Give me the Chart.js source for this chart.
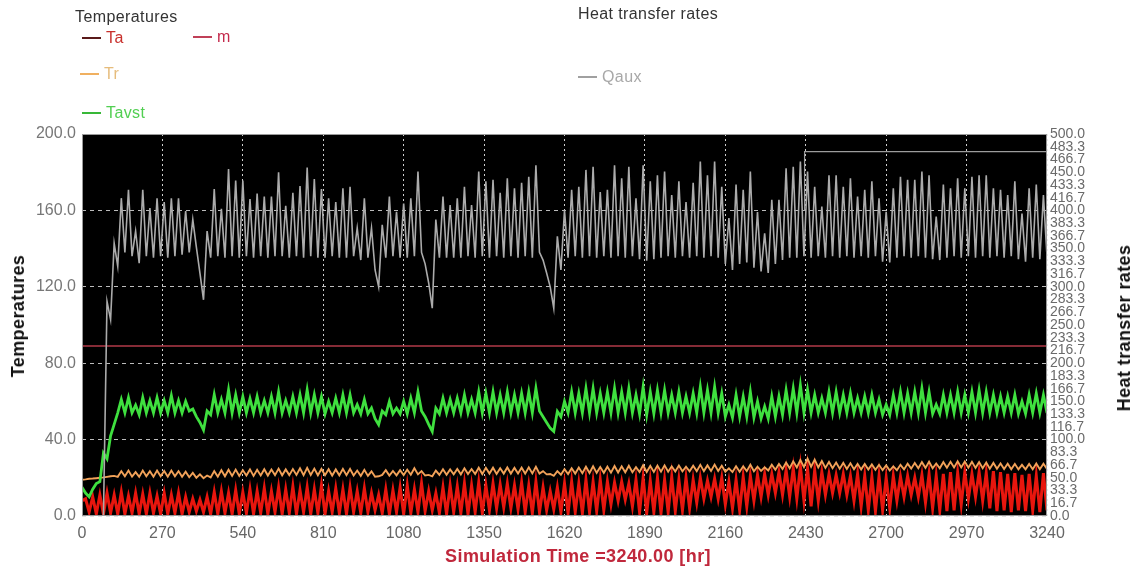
<!DOCTYPE html>
<html>
<head>
<meta charset="utf-8">
<script src="https://cdn.jsdelivr.net/npm/chart.js@4.4.1/dist/chart.umd.min.js"></script>
<style>
  body { margin: 0; background: #fff; }
  #wrap { position: relative; width: 1136px; height: 570px; font-family: "Liberation Sans", Arial, sans-serif; }
  canvas { position: absolute; left: 0; top: 0; }
  .lbl { position: absolute; white-space: nowrap; font-size: 16px; line-height: 1; letter-spacing: 0.4px; }
  .dash { display: inline-block; width: 19px; height: 2px; vertical-align: middle; margin-right: 5px; position: relative; top: -1px; }
  .axt { position: absolute; white-space: nowrap; font-weight: bold; font-size: 18px; line-height: 1; letter-spacing: 0.4px; }
</style>
</head>
<body>
<div id="wrap">
  <canvas id="chart" width="1136" height="570"></canvas>

  <div class="lbl" style="left:75px;top:9px;color:#333">Temperatures</div>
  <div class="lbl" style="left:82px;top:30px;color:#c8302c"><span class="dash" style="background:#5a1a1a"></span>Ta</div>
  <div class="lbl" style="left:193px;top:29px;color:#c42a4c"><span class="dash" style="background:#c04058"></span>m</div>
  <div class="lbl" style="left:80px;top:66px;color:#e6bc7c"><span class="dash" style="background:#f0b060"></span>Tr</div>
  <div class="lbl" style="left:82px;top:105px;color:#52cf52"><span class="dash" style="background:#38b838"></span>Tavst</div>

  <div class="lbl" style="left:578px;top:6px;color:#333">Heat transfer rates</div>
  <div class="lbl" style="left:578px;top:69px;color:#a8a8a8"><span class="dash" style="background:#a0a0a0"></span>Qaux</div>

  <div class="axt" style="left:18px;top:316px;color:#111;transform:translate(-50%,-50%) rotate(-90deg)">Temperatures</div>
  <div class="axt" style="left:1124px;top:328px;color:#111;transform:translate(-50%,-50%) rotate(-90deg)">Heat transfer rates</div>
  <div class="axt" style="left:578px;top:556px;color:#c0283c;transform:translate(-50%,-50%)">Simulation Time =3240.00 [hr]</div>
</div>

<script>
// Simulation output, sampled every 12 hours from 0 to 3240 hr
const STEP_HR = 12;
const hours = Array.from({ length: 271 }, (_, i) => i * STEP_HR);

// Ambient temperature Ta [°C]
const ta = [
  8,9,2,10,1,11,1,12,1.5,11,1,12.5,1,10.5,1.5,12,1,11.5,1,12,1.5,10.5,1,12,
  1,11,1.5,12,1,10,2,9,2.5,8.5,2,10,1,12.5,1,13,1.5,12,1,13.5,1,12.5,1.5,14,
  1,13,1.5,14.5,1,13,2,15,1,14,1.5,15.5,1,13.5,2,15,1,14,1.5,16,1,13,2,14.5,
  1.5,14,1,15,2,13,1.5,14.5,2,12,3,11,1.5,14,1,13.5,2,15,1,16,1.5,14,2,17,
  2.5,13,3,12,1.5,15,1,16,2,15.5,1.5,17,1,16,2,17.5,1.5,16,3,17,4,16.5,4.5,17,
  4,16,3.5,17.5,2,16,1.5,18,2,15,3,13,3.5,15,2,17,1.5,18,2,17,1.5,19,2,18,
  2.5,19,3,18,6,17.5,8,18,8.5,17,5,19,2,20,1.5,18.5,2,20,1.5,19,2,20.5,2.5,19,
  3,20,4,19,7,20,9,18.5,10,19.5,9,20,6,18,4,19,3,20.5,5,21,8,21.5,10,22,
  11,22,12,23,11,24,10,25,9,26,8,25,5,24,8,23,11,22,12,21.5,12,22,11,21,
  8,22,5,21,3,20.5,2.5,21,3,20,4,21,8,20.5,10,21,11,20,10,21.5,7,22,4,21,
  3,22,2.5,23,3,22.5,6,23,9,22,10,23,8,22.5,4,23.5,2.5,23,3,22,2,22.5,3,21.5,
  2.5,22,3,21,2,22.5,3
];

// Room temperature Tr [°C]
const tr = [
  19,19.2,19.5,19.6,19.8,20,20.2,20.5,20.8,21,20.5,23.5,20.8,23.8,20.6,23,20.5,23.8,20.8,23.5,20.6,23.8,20.8,23.6,
  20.6,23.8,20.8,23.5,20.5,23.2,20.3,22.6,20,21.8,19.8,21.2,20.2,23.5,20.6,24,20.8,24.2,21,24.3,21,24,21.2,24.4,
  21,24.2,21.2,24.5,21.2,24.3,21.4,24.8,21.3,24.4,21.4,24.6,21.5,25,21.4,25.2,21.5,24.8,21.3,24.6,21.4,24.5,21.2,24.4,
  21.3,24.6,21.4,24.6,21.2,23.8,21,24.2,21,23.4,20.6,20.8,21.5,24,21.2,23.6,21.3,24,21.4,24.3,21.6,25,21.8,23.5,
  21.2,21.5,20.8,23.8,21.5,24.5,21.6,24.4,21.8,24.6,21.8,25,22,24.6,22,25.3,22,25.2,22.2,25.3,22,25,22.2,25.4,
  22.2,25.2,22.3,25.3,22.2,25.5,22.3,25.8,22.2,23.5,21.8,22,21,23.5,21.6,24.5,22,25,22.2,25.4,22.4,25.8,22.5,26,
  22.6,25.6,22.6,25.8,22.7,26.2,22.8,26,22.9,26.3,22.9,25.6,23,26.5,23,26.2,23.1,26.4,23.2,26.5,23.2,26,23.3,26.4,
  23.4,25.8,23.4,26.3,23.5,26.8,23.5,26.5,23.6,26.9,23.6,26.3,23.2,25,23,26,23.2,26,23.5,26.8,23.4,25.8,23.6,25.5,
  23.8,26.8,24.2,27.2,24.6,28,25,28.6,25.4,29.3,25.6,30,25.8,29.5,25.4,28.8,25.2,28.3,25,28,24.8,27.8,24.6,27.6,
  24.5,27.3,24.4,27.2,24.3,27,24.2,26.8,24,26.5,23.8,26,24,26.8,24.4,27.4,24.8,27.8,25,28.2,25.2,28.4,25,27.5,
  25,28.2,25.3,28.4,25.4,28.6,25.4,28.5,25.3,28.4,25.2,28.2,25,28,24.8,27.8,24.7,27.5,24.6,27.4,24.5,27.3,24.4,26.8,
  24.4,27.2,24.5,27.5,24.5,27.4,24.6
];

// Average storage temperature Tavst [°C]
const tavst = [
  15,12,10,14,17,18,33,30,42,48,54,61,54,62,54,58,53,62,54,60.5,54,62,54,60.5,
  54,63,54,60.5,54,60,55,56,52,49,45,55,53,63.5,54,61,54,66,54,63.5,54,62.5,54,61.5,
  54,62.5,54,60.5,54,62.5,54,65,54,60.5,54,62.5,54,63.5,54,66,54,63.5,54,62.5,53.5,60,54,61.7,
  54,63.4,54,63.4,54,58.3,53.5,61,53.5,56.5,51,47.8,55,53,60,53.5,56.5,53.5,60,53.5,61.7,54,65,55,
  52,48,44.3,56.5,53.5,61.7,54,61,54,61.7,54,63.4,54,61,54,65,54,64.2,54,65,54,63.4,54,65,
  54,63.4,54,64.2,54,65,54,66.8,55,52,49,46,44.3,54.8,52,60,54,65,54,64.2,54,66.8,54,66.8,
  54,64.2,54,65,54,66.8,54,65,54,66.8,54,63.4,53.5,67.6,53,65,53.5,65.9,54,65.9,54,63.4,54,65,
  54,62.6,54,64.2,54,67.6,54,65.9,54,67.6,54,64.2,52,58.3,51.5,63.4,52,62.6,52,65,51.5,60,51,57.4,
  51,62.6,52,62.6,53,65.9,54,66.8,54,68.5,54,66,54,63.4,54,61.7,54,65,54,65,54,63.4,54,64.2,
  54,61.7,54,62.6,54,63.4,54,61,53,58.3,53,63.4,54,65,54,64.2,54,65,54,66.8,54,65,53.5,58.3,
  53.5,63.4,54,63.4,54,65,54,63.4,54,65,54,65.9,54,65,54,63.4,54,62.6,54,62.6,54,63.4,53.5,60,
  53.5,63.4,54,64.2,54,63.4,54
];

// Mass flow indicator m, plotted on the temperature axis
const mHours = [0, 3240];
const mValues = [89, 89];

// Auxiliary heating rate Qaux (right axis)
const qaux = [
  0,0,0,0,0,0,0,281,257,357,327,416,345,427,340,373,331,427,340,403,338,416,340,411,
  338,416,340,416,342,399,345,388,352,318,283,373,338,428,340,402,338,454,340,439,338,439,340,415,
  338,422,340,418,338,418,340,450,340,406,338,423,340,432,338,456,340,441,338,428,338,416,340,411,
  338,429,338,431,340,377,335,416,338,377,322,300,381,338,418,340,398,338,409,338,416,340,451,345,
  330,305,272,388,338,418,338,407,338,416,338,431,340,407,338,451,340,438,338,440,340,423,338,442,
  340,429,338,436,340,444,338,459,345,335,318,300,272,366,322,400,338,427,340,431,338,453,340,457,
  338,424,340,427,338,459,340,442,338,457,340,416,336,459,334,438,336,446,338,451,340,420,338,438,
  340,411,338,436,340,464,338,446,340,464,338,431,330,390,322,434,330,427,332,451,325,398,320,370,
  318,414,330,414,335,455,338,457,338,464,340,451,338,431,340,405,338,446,340,446,338,431,340,442,
  338,418,340,427,338,438,340,416,333,398,332,429,338,444,340,440,338,440,340,451,338,446,336,392,
  335,434,338,429,340,442,338,429,340,444,338,446,340,446,338,429,340,427,338,420,340,438,336,396,
  333,429,338,434,336,420,340
];

// Qaux upper trace that holds from 2426 hr to the end of the run
const qCapHours = [2426, 2426, 3240];
const qCapValues = [400, 477, 477];

// Axis ranges and tick layout
const X_MAX = 3240, X_STEP = 270;
const T_MAX = 200, T_STEP = 40;
const Q_MAX = 500, Q_TICK_COUNT = 31;

const toPoints = (xs, ys) => xs.map((x, i) => ({ x, y: ys[i] }));

// Black plot area with a thin frame
const plotFrame = {
  id: 'plotFrame',
  beforeDraw(chart) {
    const { ctx, chartArea: a } = chart;
    ctx.save();
    ctx.fillStyle = '#000';
    ctx.fillRect(a.left, a.top, a.right - a.left, a.bottom - a.top);
    ctx.restore();
  },
  afterDraw(chart) {
    const { ctx, chartArea: a } = chart;
    ctx.save();
    ctx.strokeStyle = '#9a9a9a';
    ctx.lineWidth = 1;
    ctx.strokeRect(a.left + 0.5, a.top + 0.5, a.right - a.left - 1, a.bottom - a.top - 1);
    ctx.restore();
  }
};

const FONT_FAMILY = '"Liberation Sans", Arial, sans-serif';

new Chart(document.getElementById('chart'), {
  type: 'line',
  data: {
    datasets: [
      { label: 'Qaux', data: toPoints(hours, qaux), yAxisID: 'y2', borderColor: '#ababab', borderWidth: 1.6, order: 1 },
      { label: '', data: toPoints(qCapHours, qCapValues), yAxisID: 'y2', borderColor: '#9c9c9c', borderWidth: 1.2, order: 1 },
      { label: 'Tavst', data: toPoints(hours, tavst), yAxisID: 'y', borderColor: '#3fe03f', borderWidth: 2.8, order: 2 },
      { label: 'm', data: toPoints(mHours, mValues), yAxisID: 'y', borderColor: '#b23a48', borderWidth: 1.3, order: 3 },
      { label: 'Tr', data: toPoints(hours, tr), yAxisID: 'y', borderColor: '#f2a259', borderWidth: 1.9, order: 4 },
      { label: 'Ta', data: toPoints(hours, ta), yAxisID: 'y', borderColor: '#e8160e', borderWidth: 3, order: 5 }
    ]
  },
  options: {
    responsive: false,
    animation: false,
    devicePixelRatio: 1,
    layout: { padding: { top: 134, left: 0, right: 0, bottom: 0 } },
    elements: { point: { radius: 0 }, line: { tension: 0 } },
    plugins: { legend: { display: false }, tooltip: { enabled: false }, title: { display: false } },
    scales: {
      x: {
        type: 'linear', min: 0, max: X_MAX,
        ticks: { stepSize: X_STEP, color: '#666', font: { family: FONT_FAMILY, size: 16 }, padding: 8,
                 maxRotation: 0, autoSkip: false, callback: v => String(v) },
        grid: { color: 'rgba(230,230,230,0.9)', lineWidth: 1, drawTicks: false },
        border: { display: false, dash: [2, 3] },
        afterFit(s) { s.height = 54; }
      },
      y: {
        position: 'left', min: 0, max: T_MAX,
        ticks: { stepSize: T_STEP, color: '#777', font: { family: FONT_FAMILY, size: 16 }, padding: 6,
                 callback: v => Number(v).toFixed(1) },
        grid: { color: 'rgba(220,220,220,0.85)', lineWidth: 1, drawTicks: false },
        border: { display: false, dash: [4, 4] },
        afterFit(s) { s.width = 82; }
      },
      y2: {
        position: 'right', min: 0, max: Q_MAX,
        ticks: { count: Q_TICK_COUNT, autoSkip: false, color: '#6a6a6a',
                 font: { family: FONT_FAMILY, size: 14 }, padding: 3,
                 callback: v => Number(v).toFixed(1) },
        grid: { display: false, drawTicks: false },
        border: { display: false },
        afterFit(s) { s.width = 89; }
      }
    }
  },
  plugins: [plotFrame]
});
</script>
</body>
</html>
